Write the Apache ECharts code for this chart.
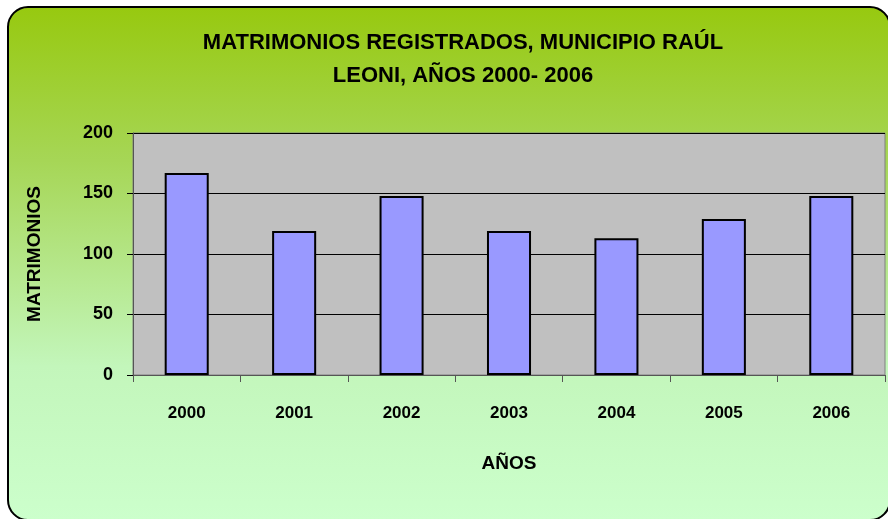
<!DOCTYPE html>
<html>
<head>
<meta charset="utf-8">
<script src="https://cdn.jsdelivr.net/npm/echarts@6/dist/echarts.min.js"></script>
<style>
  html, body { margin: 0; padding: 0; background: #fff; }
  #chart { width: 888px; height: 519px; }
</style>
</head>
<body>
<div id="chart"></div>
<script>
// datos del gráfico
const years = ['2000', '2001', '2002', '2003', '2004', '2005', '2006'];
const matrimonios = [167, 119, 148, 119, 113, 129, 148];
const yTicks = { min: 0, max: 200, interval: 50 };

const narrow = '"Liberation Sans Narrow", "Arial Narrow", "Liberation Sans", sans-serif';

const chart = echarts.init(document.getElementById('chart'));
const option = {
  backgroundColor: '#ffffff',
  animation: false,
  graphic: [
    {
      // fondo redondeado con degradado
      type: 'rect',
      z: -10,
      silent: true,
      shape: { x: 8, y: 7, width: 882, height: 513, r: 20 },
      style: {
        fill: new echarts.graphic.LinearGradient(0, 0, 0, 1, [
          { offset: 0, color: '#97c90f' },
          { offset: 0.3, color: '#a6d656' },
          { offset: 0.7, color: '#c3f6bb' },
          { offset: 1, color: '#ccffcc' }
        ]),
        stroke: '#000',
        lineWidth: 2
      }
    }
  ],
  title: {
    text: 'MATRIMONIOS REGISTRADOS, MUNICIPIO RAÚL\nLEONI, AÑOS 2000- 2006',
    left: 458,
    top: 21,
    textAlign: 'center',
    textStyle: {
      fontFamily: narrow,
      fontSize: 22,
      fontWeight: 'bold',
      color: '#000',
      lineHeight: 33
    }
  },
  grid: {
    left: 133,
    top: 133,
    right: 3,
    bottom: 144,
    show: true,
    backgroundColor: '#c0c0c0',
    borderColor: '#808080',
    borderWidth: 1
  },
  xAxis: {
    type: 'category',
    data: years,
    name: 'AÑOS',
    nameLocation: 'middle',
    nameGap: 79,
    nameTextStyle: { fontFamily: narrow, fontSize: 19, fontWeight: 'bold', color: '#000' },
    axisLine: { lineStyle: { color: '#555', width: 1 } },
    axisTick: { show: true, alignWithLabel: false, length: 7, lineStyle: { color: '#555' } },
    axisLabel: { margin: 30, fontFamily: narrow, fontSize: 17, fontWeight: 'bold', color: '#000' }
  },
  yAxis: {
    type: 'value',
    min: yTicks.min,
    max: yTicks.max,
    interval: yTicks.interval,
    name: 'MATRIMONIOS',
    nameLocation: 'middle',
    nameGap: 89,
    nameTextStyle: { fontFamily: '"Liberation Sans", Arial, sans-serif', fontSize: 19, fontWeight: 'bold', color: '#000' },
    axisLine: { show: true, lineStyle: { color: '#555', width: 1 } },
    axisTick: { show: true, length: 6, lineStyle: { color: '#000' } },
    axisLabel: { margin: 20, fontFamily: narrow, fontSize: 18, fontWeight: 'bold', color: '#000' },
    splitLine: { show: true, lineStyle: { color: '#000', width: 1 } }
  },
  series: [
    {
      type: 'bar',
      data: matrimonios,
      barWidth: '41%',
      itemStyle: { color: '#9999ff', borderColor: '#000', borderWidth: 2 }
    }
  ]
};
chart.setOption(option);
</script>
</body>
</html>
